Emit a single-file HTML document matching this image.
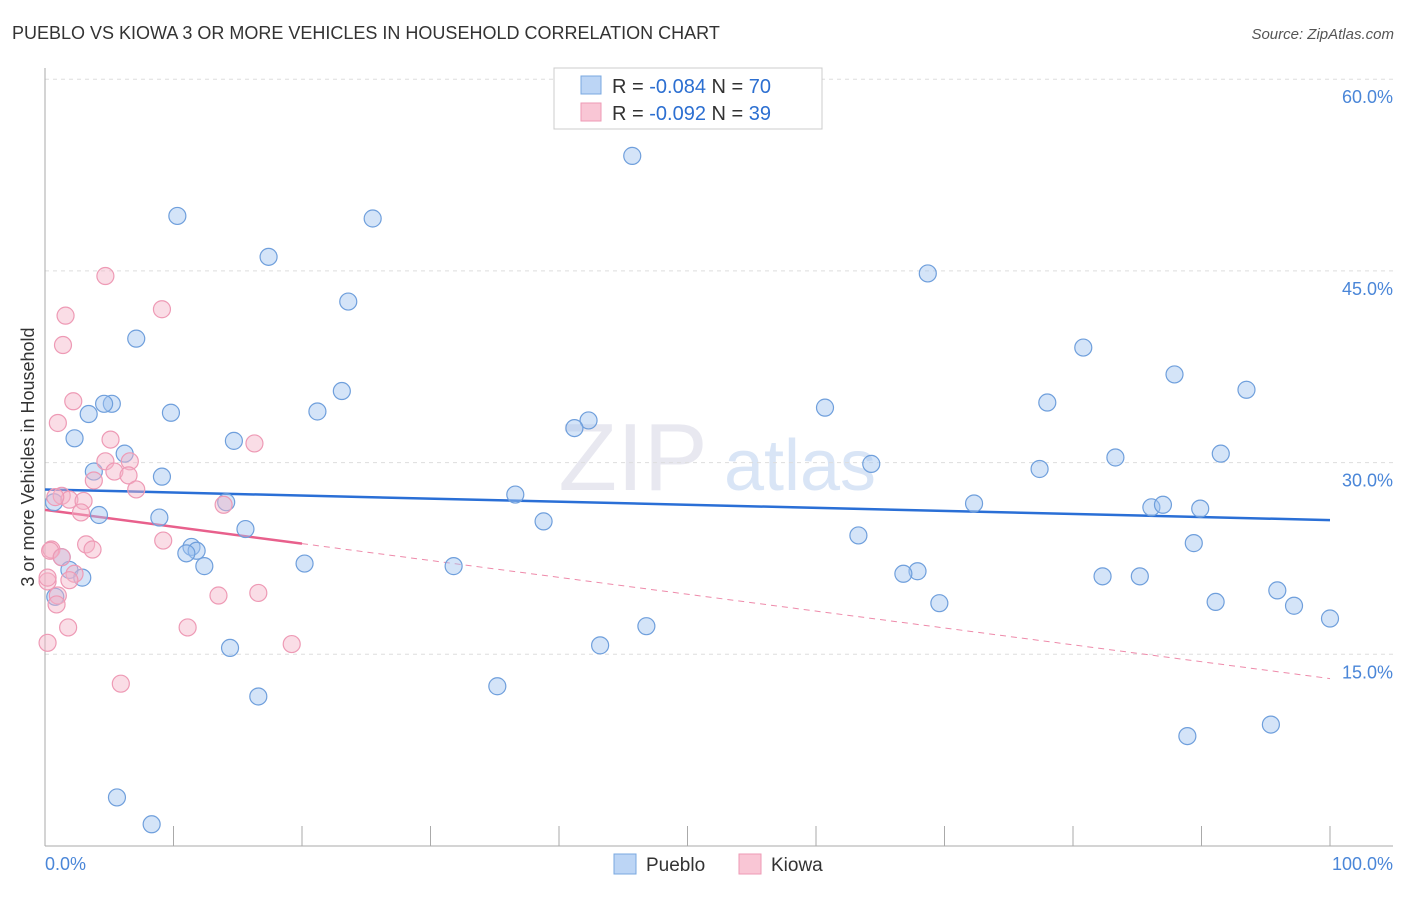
<!DOCTYPE html>
<html><head><meta charset="utf-8"><style>
body{margin:0;background:#fff;font-family:"Liberation Sans",sans-serif;}
svg text{font-family:"Liberation Sans",sans-serif;}
</style></head><body>
<svg id="chart" width="1406" height="892" xmlns="http://www.w3.org/2000/svg">
<text x="12" y="39" font-size="18" fill="#333">PUEBLO VS KIOWA 3 OR MORE VEHICLES IN HOUSEHOLD CORRELATION CHART</text>
<text x="1394" y="39" font-size="15" fill="#555" text-anchor="end" font-style="italic">Source: ZipAtlas.com</text>
<g><text x="633" y="490" font-size="96" fill="#ccd" fill-opacity="0.45" font-family="Liberation Serif" text-anchor="middle">ZIP</text><text x="800" y="490" font-size="72" fill="#aac6ea" fill-opacity="0.45" text-anchor="middle">atlas</text></g>
<g id="grid"></g><g id="axes"></g><g id="lines"></g><g id="pts"></g>
<g>
<rect x="554" y="68" width="268" height="61" fill="#fff" stroke="#ccc"/>
<rect x="581" y="76" width="20" height="18" fill="#bcd5f5" stroke="#7aa8e0"/>
<rect x="581" y="103" width="20" height="18" fill="#f9c6d5" stroke="#ee9ab5"/>
<text x="612" y="93" font-size="20" fill="#333">R = <tspan fill="#2c6fd1">-0.084</tspan>   N = <tspan fill="#2c6fd1">70</tspan></text>
<text x="612" y="120" font-size="20" fill="#333">R = <tspan fill="#2c6fd1">-0.092</tspan>   N = <tspan fill="#2c6fd1"> 39</tspan></text>
</g>
<text transform="translate(34,457) rotate(-90)" font-size="18" fill="#333" text-anchor="middle">3 or more Vehicles in Household</text>
<text x="45" y="870" font-size="18" fill="#4a86d8">0.0%</text>
<text x="1393" y="870" font-size="18" fill="#4a86d8" text-anchor="end">100.0%</text>
<g>
<rect x="614" y="854" width="22" height="20" fill="#bcd5f5" stroke="#7aa8e0"/><text x="646" y="871" font-size="19" fill="#333">Pueblo</text>
<rect x="739" y="854" width="22" height="20" fill="#f9c6d5" stroke="#ee9ab5"/><text x="771" y="871" font-size="19" fill="#333">Kiowa</text>
</g>
</svg>
<script>
const yTicks=[15,30,45,60];
const yTickLabels=["15.0%","30.0%","45.0%","60.0%"];
const xTicks=[0,10,20,30,40,50,60,70,80,90,100];
const puebloX=[45.7,10.3,25.5,17.4,68.7,23.6,7.1,80.8,87.9,23.1,93.5,5.2,4.6,3.4,9.8,21.2,60.7,78.0,42.3,41.2,2.3,14.7,6.2,91.5,83.3,64.3,77.4,3.8,9.1,36.6,0.7,14.1,72.3,86.1,87.0,89.9,4.2,8.9,38.8,15.6,63.3,89.4,11.4,11.8,11.0,1.3,20.2,12.4,31.8,1.9,2.9,67.9,66.8,82.3,85.2,95.9,0.8,69.6,91.1,97.2,100,46.8,43.2,14.4,35.2,16.6,95.4,88.9,5.6,8.3];
const puebloY=[54.0,49.3,49.1,46.1,44.8,42.6,39.7,39.0,36.9,35.6,35.7,34.6,34.6,33.8,33.9,34.0,34.3,34.7,33.3,32.7,31.9,31.7,30.7,30.7,30.4,29.9,29.5,29.3,28.9,27.5,26.9,26.9,26.8,26.5,26.7,26.4,25.9,25.7,25.4,24.8,24.3,23.7,23.4,23.1,22.9,22.6,22.1,21.9,21.9,21.6,21.0,21.5,21.3,21.1,21.1,20.0,19.5,19.0,19.1,18.8,17.8,17.2,15.7,15.5,12.5,11.7,9.5,8.6,3.8,1.7];
const kiowaX=[4.7,9.1,1.6,1.4,2.2,1.0,5.1,16.3,4.7,6.6,5.4,6.5,7.1,3.8,1.3,1.9,3.0,13.9,2.8,0.8,9.2,3.2,3.7,0.5,0.4,1.3,2.3,1.9,0.2,1.0,0.9,13.5,16.6,1.8,11.1,0.2,19.2,5.9,0.2];
const kiowaY=[44.6,42.0,41.5,39.2,34.8,33.1,31.8,31.5,30.1,30.1,29.3,29.0,27.9,28.6,27.4,27.1,27.0,26.7,26.1,27.3,23.9,23.6,23.2,23.2,23.1,22.6,21.3,20.8,20.7,19.6,18.9,19.6,19.8,17.1,17.1,15.9,15.8,12.7,21.0];
const puebloTrend=[27.9,25.5];
const kiowaTrend=[26.3,13.1];
const kiowaSolidEnd=20;
const NS="http://www.w3.org/2000/svg";
const X=v=>45+v*12.85, Y=v=>846-v*12.78;
function mk(tag,attrs,parent){const e=document.createElementNS(NS,tag);for(const k in attrs)e.setAttribute(k,attrs[k]);document.getElementById(parent).appendChild(e);return e;}
yTicks.forEach((t,i)=>{
 const g=mk('line',{x1:45,x2:1393,y1:Y(t),y2:Y(t),stroke:'#ddd','stroke-dasharray':'4,4'},'grid');
 
 
 const tx=mk('text',{x:1393,y:Y(t)+24,'font-size':18,fill:'#4a86d8','text-anchor':'end'},'grid');
 tx.textContent=yTickLabels[i];
 
 
});
const ax=mk('line',{x1:45,x2:45,y1:68,y2:846,stroke:'#aaa'},'axes');


const bx=mk('line',{x1:45,x2:1393,y1:846,y2:846,stroke:'#aaa'},'axes');


xTicks.forEach(t=>{
 const l=mk('line',{x1:X(t),x2:X(t),y1:826,y2:846,stroke:'#aaa'},'axes');
 
 
});
const pl=mk('line',{x1:X(0),y1:Y(puebloTrend[0]),x2:X(100),y2:Y(puebloTrend[1]),stroke:'#2a6fd6','stroke-width':2.5},'lines');


const ky=v=>kiowaTrend[0]+(kiowaTrend[1]-kiowaTrend[0])*v/100;
const kd=mk('line',{x1:X(kiowaSolidEnd),y1:Y(ky(kiowaSolidEnd)),x2:X(100),y2:Y(ky(100)),stroke:'#ee8aaa','stroke-width':1,'stroke-dasharray':'6,5'},'lines');


const ks=mk('line',{x1:X(0),y1:Y(ky(0)),x2:X(kiowaSolidEnd),y2:Y(ky(kiowaSolidEnd)),stroke:'#e8608c','stroke-width':2.5},'lines');


puebloX.forEach((x,i)=>{
 const c=mk('circle',{cx:X(x),cy:Y(puebloY[i]),r:8.5,fill:'rgba(160,196,240,0.45)',stroke:'#6f9fdc','stroke-width':1.2},'pts');
 
 
});
kiowaX.forEach((x,i)=>{
 const c=mk('circle',{cx:X(x),cy:Y(kiowaY[i]),r:8.5,fill:'rgba(245,180,200,0.45)',stroke:'#ee9ab5','stroke-width':1.2},'pts');
 
 
});
</script>
</body></html>
